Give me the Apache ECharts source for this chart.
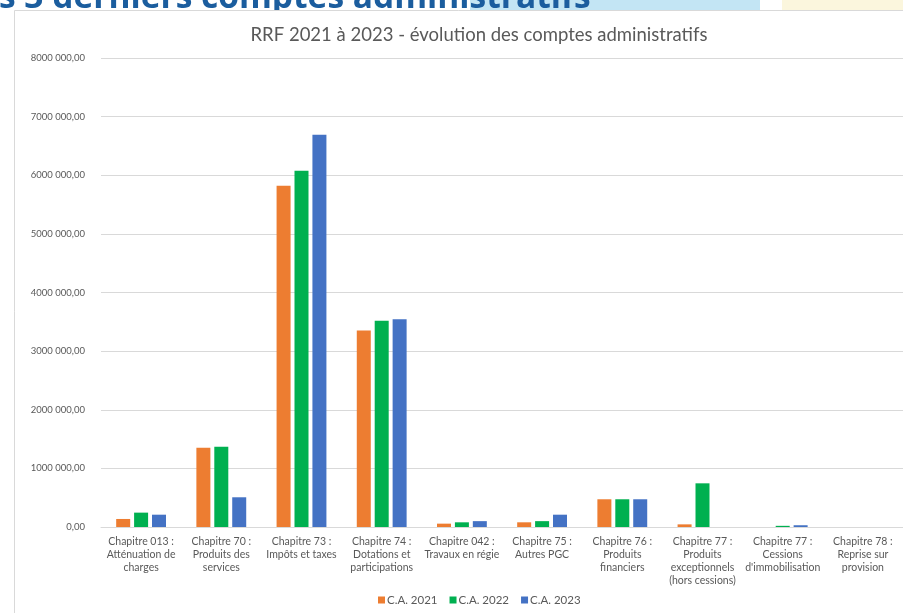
<!DOCTYPE html>
<html>
<head>
<meta charset="utf-8">
<script src="https://cdn.jsdelivr.net/npm/echarts@6/dist/echarts.min.js"></script>
<style>
html,body{margin:0;padding:0;background:#fff;}
#c{width:903px;height:613px;}
</style>
</head>
<body>
<div id="c"></div>
<script>
var categories = [
  "Chapitre 013 :\nAtténuation de\ncharges",
  "Chapitre 70 :\nProduits des\nservices",
  "Chapitre 73 :\nImpôts et taxes",
  "Chapitre 74 :\nDotations et\nparticipations",
  "Chapitre 042 :\nTravaux en régie",
  "Chapitre 75 :\nAutres PGC",
  "Chapitre 76 :\nProduits\nfinanciers",
  "Chapitre 77 :\nProduits\nexceptionnels\n(hors cessions)",
  "Chapitre 77 :\nCessions\nd'immobilisation",
  "Chapitre 78 :\nReprise sur\nprovision"
];
var seriesNames = ["C.A. 2021", "C.A. 2022", "C.A. 2023"];
var ca2021 = [137000, 1350000, 5820000, 3350000, 57000, 80000, 473000, 45000, 0, 0];
var ca2022 = [245000, 1370000, 6075000, 3520000, 80000, 100000, 473000, 745000, 20000, 0];
var ca2023 = [210000, 507000, 6690000, 3545000, 100000, 210000, 473000, 0, 30000, 0];
var yTicks = { min: 0, max: 8000000, interval: 1000000 };
var chartTitle = "RRF 2021 à 2023 - évolution des comptes administratifs";
var headerText = "s 3 derniers comptes administratifs";

var colors = ["#ED7D31", "#00B050", "#4472C4"];
var font = "Lato, 'Open Sans', sans-serif";

function fmt(v) {
  if (v === 0) return "0,00";
  var k = Math.floor(v / 1000);
  var r = String(v % 1000).padStart(3, "0");
  return k + " " + r + ",00";
}

var chart = echarts.init(document.getElementById('c'), null, {renderer: 'canvas'});
var data = [ca2021, ca2022, ca2023];
chart.setOption({
  animation: false,
  backgroundColor: '#ffffff',
  color: colors,
  title: {
    text: chartTitle,
    left: 474, top: 21, textAlign: 'center',
    textStyle: { fontFamily: font, fontSize: 18.5, fontWeight: 'normal', color: '#595959' }
  },
  legend: {
    data: seriesNames,
    bottom: 2, left: 373,
    icon: 'rect', itemWidth: 7, itemHeight: 7, itemGap: 12,
    textStyle: { fontFamily: font, fontSize: 11.5, color: '#595959', padding: [0, 0, 0, -3] }
  },
  grid: { left: 101, top: 58, width: 806, height: 469, containLabel: false },
  xAxis: {
    type: 'category',
    data: categories,
    axisTick: { show: false },
    axisLine: { lineStyle: { color: '#d9d9d9', width: 1 } },
    axisLabel: { interval: 0, margin: 8, fontFamily: font, fontSize: 10.5, color: '#595959', lineHeight: 13, align: 'center' }
  },
  yAxis: {
    type: 'value',
    min: yTicks.min, max: yTicks.max, interval: yTicks.interval,
    axisLine: { show: false },
    axisTick: { show: false },
    splitLine: { lineStyle: { color: '#d9d9d9', width: 1 } },
    axisLabel: { margin: 16, fontFamily: font, fontSize: 9.5, color: '#595959', formatter: fmt }
  },
  series: seriesNames.map(function (n, i) {
    return { name: n, type: 'bar', data: data[i], barWidth: 14, barGap: '28%', itemStyle: { color: colors[i] } };
  }),
  graphic: [
    { type: 'rect', shape: { x: 470, y: 0, width: 290, height: 10 }, style: { fill: '#c3e5f4' }, z: -5 },
    { type: 'rect', shape: { x: 782, y: 0, width: 121, height: 10 }, style: { fill: '#fbf6dd' }, z: -5 },
    { type: 'text', left: -1, top: -19, style: { text: headerText, fontFamily: "'Open Sans', sans-serif", fontWeight: 'bold', fontSize: 33.5, fill: '#1b5d9e' }, z: -4 },
    { type: 'rect', shape: { x: 14, y: 10, width: 889, height: 603 }, style: { fill: '#ffffff' }, z: -3 },
    { type: 'line', shape: { x1: 14.5, y1: 10.5, x2: 903, y2: 10.5 }, style: { stroke: '#d9d9d9', lineWidth: 1 }, z: -2 },
    { type: 'line', shape: { x1: 14.5, y1: 10.5, x2: 14.5, y2: 613 }, style: { stroke: '#d9d9d9', lineWidth: 1 }, z: -2 }
  ]
});
</script>
</body>
</html>
